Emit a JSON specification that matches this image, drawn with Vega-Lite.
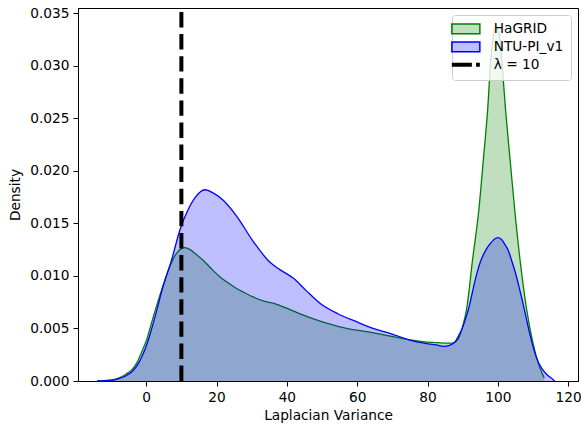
{
  "$schema": "https://vega.github.io/schema/vega-lite/v6.json",
  "width": 500,
  "height": 373,
  "autosize": "none",
  "padding": {"left": 78, "top": 8, "right": 3, "bottom": 47},
  "background": "white",
  "config": {
    "view": {"stroke": "black", "strokeWidth": 1},
    "font": "DejaVu Sans",
    "axis": {
      "grid": false,
      "domainColor": "black",
      "tickColor": "black",
      "tickSize": 5,
      "labelFont": "DejaVu Sans",
      "labelFontSize": 13.7,
      "labelColor": "black",
      "labelPadding": 4,
      "titleFont": "DejaVu Sans",
      "titleFontSize": 13.7,
      "titleFontWeight": "normal",
      "titleColor": "black"
    }
  },
  "datasets": {
    "kde": [
      {"s": "HaGRID", "x": -14, "d": 0},
      {"s": "HaGRID", "x": -12, "d": 0.00003},
      {"s": "HaGRID", "x": -10, "d": 0.0001},
      {"s": "HaGRID", "x": -8, "d": 0.00025},
      {"s": "HaGRID", "x": -6, "d": 0.0006},
      {"s": "HaGRID", "x": -4, "d": 0.0011},
      {"s": "HaGRID", "x": -2.7, "d": 0.0017},
      {"s": "HaGRID", "x": -1.5, "d": 0.0026},
      {"s": "HaGRID", "x": 0.1, "d": 0.0039},
      {"s": "HaGRID", "x": 2.0, "d": 0.0061},
      {"s": "HaGRID", "x": 4.4, "d": 0.0087},
      {"s": "HaGRID", "x": 6.7, "d": 0.0109},
      {"s": "HaGRID", "x": 8.5, "d": 0.0121},
      {"s": "HaGRID", "x": 10, "d": 0.0126},
      {"s": "HaGRID", "x": 11, "d": 0.0127},
      {"s": "HaGRID", "x": 12.5, "d": 0.0125},
      {"s": "HaGRID", "x": 14, "d": 0.0121},
      {"s": "HaGRID", "x": 16.2, "d": 0.0115},
      {"s": "HaGRID", "x": 18.5, "d": 0.0107},
      {"s": "HaGRID", "x": 21, "d": 0.0099},
      {"s": "HaGRID", "x": 23.5, "d": 0.0093},
      {"s": "HaGRID", "x": 25.7, "d": 0.0088},
      {"s": "HaGRID", "x": 28, "d": 0.0084},
      {"s": "HaGRID", "x": 30.4, "d": 0.0080},
      {"s": "HaGRID", "x": 33.5, "d": 0.0076},
      {"s": "HaGRID", "x": 37.1, "d": 0.0073},
      {"s": "HaGRID", "x": 40.9, "d": 0.0068},
      {"s": "HaGRID", "x": 46, "d": 0.0061},
      {"s": "HaGRID", "x": 51.3, "d": 0.0055},
      {"s": "HaGRID", "x": 57, "d": 0.0050},
      {"s": "HaGRID", "x": 62.7, "d": 0.0047},
      {"s": "HaGRID", "x": 67.5, "d": 0.0044},
      {"s": "HaGRID", "x": 72.1, "d": 0.0041},
      {"s": "HaGRID", "x": 77.5, "d": 0.0038},
      {"s": "HaGRID", "x": 82.6, "d": 0.00365},
      {"s": "HaGRID", "x": 86.8, "d": 0.0036},
      {"s": "HaGRID", "x": 88.7, "d": 0.0040},
      {"s": "HaGRID", "x": 90, "d": 0.0052},
      {"s": "HaGRID", "x": 91.1, "d": 0.0068},
      {"s": "HaGRID", "x": 92.8, "d": 0.0115},
      {"s": "HaGRID", "x": 94.6, "d": 0.0163},
      {"s": "HaGRID", "x": 96, "d": 0.0215},
      {"s": "HaGRID", "x": 97.1, "d": 0.0258},
      {"s": "HaGRID", "x": 98, "d": 0.0306},
      {"s": "HaGRID", "x": 99.4, "d": 0.0337},
      {"s": "HaGRID", "x": 100.5, "d": 0.0328},
      {"s": "HaGRID", "x": 101.1, "d": 0.0306},
      {"s": "HaGRID", "x": 102.2, "d": 0.0258},
      {"s": "HaGRID", "x": 103.5, "d": 0.0210},
      {"s": "HaGRID", "x": 104.8, "d": 0.0163},
      {"s": "HaGRID", "x": 106.5, "d": 0.0110},
      {"s": "HaGRID", "x": 108.2, "d": 0.0068},
      {"s": "HaGRID", "x": 110, "d": 0.0036},
      {"s": "HaGRID", "x": 111.5, "d": 0.0017},
      {"s": "HaGRID", "x": 112.5, "d": 0.0008},
      {"s": "HaGRID", "x": 113.2, "d": 0.0003},
      {"s": "NTU-PI_v1", "x": -14, "d": 0},
      {"s": "NTU-PI_v1", "x": -12, "d": 0.00002},
      {"s": "NTU-PI_v1", "x": -10, "d": 0.00006},
      {"s": "NTU-PI_v1", "x": -8, "d": 0.0002},
      {"s": "NTU-PI_v1", "x": -6, "d": 0.00045},
      {"s": "NTU-PI_v1", "x": -4, "d": 0.0009},
      {"s": "NTU-PI_v1", "x": -2, "d": 0.0018},
      {"s": "NTU-PI_v1", "x": -1, "d": 0.0025},
      {"s": "NTU-PI_v1", "x": 0, "d": 0.0033},
      {"s": "NTU-PI_v1", "x": 0.6, "d": 0.0039},
      {"s": "NTU-PI_v1", "x": 2.5, "d": 0.0061},
      {"s": "NTU-PI_v1", "x": 4.8, "d": 0.0090},
      {"s": "NTU-PI_v1", "x": 7.2, "d": 0.0115},
      {"s": "NTU-PI_v1", "x": 9.6, "d": 0.0144},
      {"s": "NTU-PI_v1", "x": 11.9, "d": 0.0163},
      {"s": "NTU-PI_v1", "x": 14, "d": 0.0175},
      {"s": "NTU-PI_v1", "x": 16.7, "d": 0.0182},
      {"s": "NTU-PI_v1", "x": 19, "d": 0.0179},
      {"s": "NTU-PI_v1", "x": 21.9, "d": 0.0172},
      {"s": "NTU-PI_v1", "x": 25.7, "d": 0.0157},
      {"s": "NTU-PI_v1", "x": 30.4, "d": 0.0133},
      {"s": "NTU-PI_v1", "x": 35.2, "d": 0.0113},
      {"s": "NTU-PI_v1", "x": 38, "d": 0.0106},
      {"s": "NTU-PI_v1", "x": 41.8, "d": 0.0098},
      {"s": "NTU-PI_v1", "x": 45.5, "d": 0.0086},
      {"s": "NTU-PI_v1", "x": 49.4, "d": 0.0074},
      {"s": "NTU-PI_v1", "x": 54.5, "d": 0.0064},
      {"s": "NTU-PI_v1", "x": 59.8, "d": 0.00565},
      {"s": "NTU-PI_v1", "x": 64.5, "d": 0.0050},
      {"s": "NTU-PI_v1", "x": 69.3, "d": 0.00454},
      {"s": "NTU-PI_v1", "x": 75, "d": 0.0039},
      {"s": "NTU-PI_v1", "x": 79, "d": 0.0036},
      {"s": "NTU-PI_v1", "x": 82.6, "d": 0.00343},
      {"s": "NTU-PI_v1", "x": 84.5, "d": 0.0033},
      {"s": "NTU-PI_v1", "x": 86.3, "d": 0.0034},
      {"s": "NTU-PI_v1", "x": 87.8, "d": 0.0037},
      {"s": "NTU-PI_v1", "x": 89, "d": 0.0044},
      {"s": "NTU-PI_v1", "x": 90.1, "d": 0.0052},
      {"s": "NTU-PI_v1", "x": 91, "d": 0.0061},
      {"s": "NTU-PI_v1", "x": 92, "d": 0.0073},
      {"s": "NTU-PI_v1", "x": 93, "d": 0.0088},
      {"s": "NTU-PI_v1", "x": 94, "d": 0.0102},
      {"s": "NTU-PI_v1", "x": 95, "d": 0.0113},
      {"s": "NTU-PI_v1", "x": 96, "d": 0.0121},
      {"s": "NTU-PI_v1", "x": 97, "d": 0.0127},
      {"s": "NTU-PI_v1", "x": 98, "d": 0.01315},
      {"s": "NTU-PI_v1", "x": 99, "d": 0.0135},
      {"s": "NTU-PI_v1", "x": 100, "d": 0.01365},
      {"s": "NTU-PI_v1", "x": 101, "d": 0.0135},
      {"s": "NTU-PI_v1", "x": 102, "d": 0.0130},
      {"s": "NTU-PI_v1", "x": 103, "d": 0.0124},
      {"s": "NTU-PI_v1", "x": 104, "d": 0.0114},
      {"s": "NTU-PI_v1", "x": 105, "d": 0.0103},
      {"s": "NTU-PI_v1", "x": 106, "d": 0.0090},
      {"s": "NTU-PI_v1", "x": 107, "d": 0.0076},
      {"s": "NTU-PI_v1", "x": 108, "d": 0.0061},
      {"s": "NTU-PI_v1", "x": 109, "d": 0.0046},
      {"s": "NTU-PI_v1", "x": 110, "d": 0.0033},
      {"s": "NTU-PI_v1", "x": 111, "d": 0.0022},
      {"s": "NTU-PI_v1", "x": 112.5, "d": 0.0012},
      {"s": "NTU-PI_v1", "x": 114, "d": 0.0006},
      {"s": "NTU-PI_v1", "x": 115.5, "d": 0.0002},
      {"s": "NTU-PI_v1", "x": 116.2, "d": 0}
    ],
    "lambda": [{"lam": 10, "label": "λ = 10"}]
  },
  "layer": [
    {
      "data": {"name": "kde"},
      "transform": [{"filter": "datum.s === 'HaGRID'"}],
      "mark": {"type": "area", "fillOpacity": 1, "interpolate": "monotone"},
      "encoding": {
        "x": {"field": "x", "type": "quantitative", "scale": {"domain": [-19.4, 122.8], "nice": false, "zero": false},
              "axis": {"values": [0, 20, 40, 60, 80, 100, 120], "title": "Laplacian Variance", "titlePadding": 5}},
        "y": {"field": "d", "type": "quantitative", "scale": {"domain": [0, 0.0355], "nice": false},
              "axis": {"values": [0, 0.005, 0.01, 0.015, 0.02, 0.025, 0.03, 0.035], "format": ".3f", "title": "Density", "titlePadding": 7}},
        "fill": {
          "field": "s", "type": "nominal",
          "scale": {"domain": ["HaGRID", "NTU-PI_v1", "λ = 10"], "range": ["rgba(0,128,0,0.25)", "rgba(0,0,255,0.25)", "rgba(0,0,0,0)"]},
          "legend": {
            "title": null,
            "orient": "top-right",
            "offset": 7,
            "padding": 7,
            "fillColor": "rgba(255,255,255,0.8)",
            "strokeColor": "#cccccc",
            "cornerRadius": 3,
            "labelFont": "DejaVu Sans",
            "labelFontSize": 13.7,
            "labelColor": "black",
            "labelOffset": 21,
            "rowPadding": 1,
            "symbolSize": 196,
            "symbolType": "square",
            "encode": {
              "symbols": {
                "update": {
                  "shape": {"signal": "datum.value === 'λ = 10' ? 'M-2,0H0.86M1.46,0H2' : 'M-2,-0.7H2V0.7H-2Z'"},
                  "stroke": {"signal": "datum.value === 'HaGRID' ? 'green' : datum.value === 'NTU-PI_v1' ? 'blue' : 'black'"},
                  "strokeWidth": {"signal": "datum.value === 'λ = 10' ? 4 : 1.5"},
                  "opacity": {"value": 1},
                  "strokeOpacity": {"value": 1}
                }
              }
            }
          }
        }
      }
    },
    {
      "data": {"name": "kde"},
      "transform": [{"filter": "datum.s === 'HaGRID'"}],
      "mark": {"type": "line", "color": "green", "strokeWidth": 1.3, "interpolate": "monotone"},
      "encoding": {
        "x": {"field": "x", "type": "quantitative"},
        "y": {"field": "d", "type": "quantitative"}
      }
    },
    {
      "data": {"name": "kde"},
      "transform": [{"filter": "datum.s === 'NTU-PI_v1'"}],
      "mark": {"type": "area", "fillOpacity": 1, "interpolate": "monotone"},
      "encoding": {
        "x": {"field": "x", "type": "quantitative"},
        "y": {"field": "d", "type": "quantitative"},
        "fill": {"field": "s", "type": "nominal"}
      }
    },
    {
      "data": {"name": "kde"},
      "transform": [{"filter": "datum.s === 'NTU-PI_v1'"}],
      "mark": {"type": "line", "color": "blue", "strokeWidth": 1.3, "interpolate": "monotone"},
      "encoding": {
        "x": {"field": "x", "type": "quantitative"},
        "y": {"field": "d", "type": "quantitative"}
      }
    },
    {
      "data": {"name": "lambda"},
      "mark": {"type": "rule", "color": "black", "strokeWidth": 4, "strokeDash": [15.4, 6.7]},
      "encoding": {
        "x": {"field": "lam", "type": "quantitative"},
        "y": {"datum": 0},
        "y2": {"datum": 0.0355}
      }
    }
  ]
}
